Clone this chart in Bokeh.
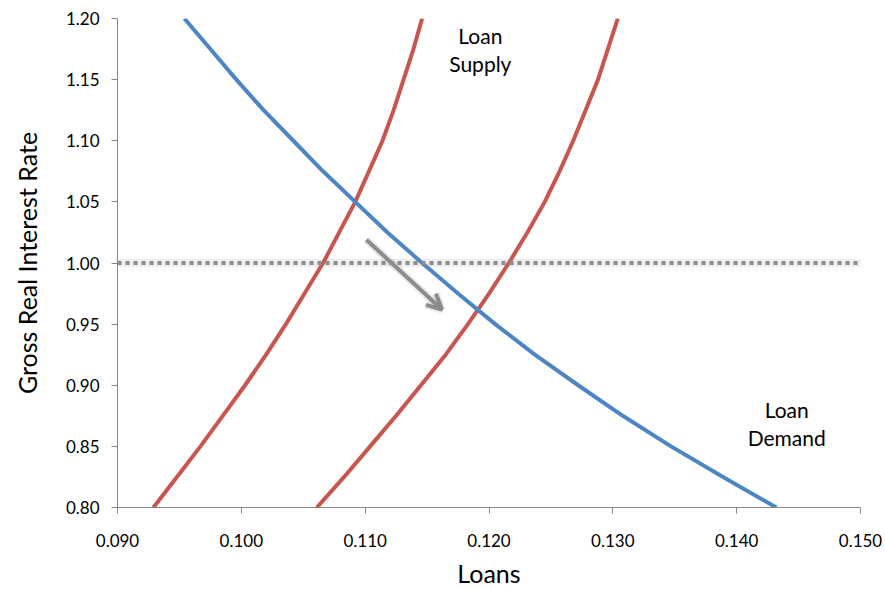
from bokeh.plotting import figure
from bokeh.models import Range1d, FixedTicker, Span, Arrow, OpenHead, ColumnDataSource
from bokeh.core.properties import value
from bokeh.embed import file_html
from bokeh.resources import INLINE

# ---- data ----
rates = [0.800, 0.825, 0.850, 0.875, 0.900, 0.925, 0.950, 0.975, 1.000,
         1.025, 1.050, 1.075, 1.100, 1.125, 1.150, 1.175, 1.200]
loan_demand = [0.1432, 0.1389, 0.1347, 0.1308, 0.1272, 0.1237, 0.1205, 0.1175, 0.1146,
               0.1118, 0.1092, 0.1066, 0.1042, 0.1018, 0.0996, 0.0975, 0.0954]
loan_supply_before = [0.0929, 0.0948, 0.0967, 0.0985, 0.1003, 0.1020, 0.1036, 0.1051, 0.1066,
                      0.1079, 0.1092, 0.1103, 0.1114, 0.1123, 0.1131, 0.1139, 0.1146]
loan_supply_after = [0.1061, 0.1083, 0.1104, 0.1125, 0.1145, 0.1165, 0.1183, 0.1200, 0.1216,
                     0.1231, 0.1245, 0.1257, 0.1268, 0.1278, 0.1288, 0.1296, 0.1304]
reference_rate = 1.00
shift_arrow_x = [0.1101, 0.1162]
shift_arrow_y = [1.019, 0.962]

x_ticks = [0.09, 0.10, 0.11, 0.12, 0.13, 0.14, 0.15]
x_tick_labels = ["0.090", "0.100", "0.110", "0.120", "0.130", "0.140", "0.150"]
y_ticks = [0.80, 0.85, 0.90, 0.95, 1.00, 1.05, 1.10, 1.15, 1.20]
y_tick_labels = ["0.80", "0.85", "0.90", "0.95", "1.00", "1.05", "1.10", "1.15", "1.20"]

supply_label = ["Loan", "Supply"]
demand_label = ["Loan", "Demand"]

FONT = "Lato"
AXIS_GREY = "#868686"
BLUE = "#4D86C3"
RED = "#C9554F"
GREY = "#8C8C8C"

p = figure(width=885, height=590, output_backend="svg", toolbar_location=None,
           x_range=Range1d(0.09, 0.15), y_range=Range1d(0.80, 1.20),
           min_border_left=117, min_border_right=25, min_border_top=18, min_border_bottom=82)
p.outline_line_color = None
p.xgrid.visible = False
p.ygrid.visible = False
p.background_fill_color = "white"
p.border_fill_color = "white"

for ax in (p.xaxis[0], p.yaxis[0]):
    ax.axis_line_color = AXIS_GREY
    ax.major_tick_line_color = AXIS_GREY
    ax.minor_tick_line_color = None
    ax.major_tick_out = 6
    ax.major_tick_in = 0
    ax.major_label_text_font = FONT
    ax.major_label_text_font_size = "17px"
    ax.major_label_text_color = "black"
    ax.axis_label_text_font = FONT
    ax.axis_label_text_font_size = "25px"
    ax.axis_label_text_font_style = "normal"
    ax.axis_label_text_color = "black"

p.xaxis[0].ticker = FixedTicker(ticks=x_ticks)
p.xaxis[0].major_label_overrides = dict(zip(x_ticks, x_tick_labels))
p.yaxis[0].ticker = FixedTicker(ticks=y_ticks)
p.yaxis[0].major_label_overrides = dict(zip(y_ticks, y_tick_labels))
p.xaxis[0].axis_label = "Loans"
p.yaxis[0].axis_label = "Gross Real Interest Rate"
p.xaxis[0].major_label_standoff = 20
p.xaxis[0].axis_label_standoff = 8
p.yaxis[0].major_label_standoff = 12
p.yaxis[0].axis_label_standoff = 21

# reference rate: soft shadow + dotted line
p.add_layout(Span(location=reference_rate, dimension="width", line_color=GREY,
                  line_alpha=0.15, line_width=8))
p.add_layout(Span(location=reference_rate, dimension="width", line_color=GREY,
                  line_width=4, line_dash="4 4"))

src = ColumnDataSource(dict(rate=rates, demand=loan_demand,
                            s1=loan_supply_before, s2=loan_supply_after))
p.line("s1", "rate", source=src, line_color=RED, line_width=4, line_join="round")
p.line("s2", "rate", source=src, line_color=RED, line_width=4, line_join="round")
p.line("demand", "rate", source=src, line_color=BLUE, line_width=4, line_join="round")

# shift arrow (shadow + arrow)
p.add_layout(Arrow(x_start=shift_arrow_x[0], y_start=shift_arrow_y[0],
                   x_end=shift_arrow_x[1], y_end=shift_arrow_y[1],
                   line_color=GREY, line_alpha=0.18, line_width=8,
                   end=OpenHead(size=15, line_color=GREY, line_alpha=0.18, line_width=8)))
p.add_layout(Arrow(x_start=shift_arrow_x[0], y_start=shift_arrow_y[0],
                   x_end=shift_arrow_x[1], y_end=shift_arrow_y[1],
                   line_color=GREY, line_width=4,
                   end=OpenHead(size=15, line_color=GREY, line_width=4)))

# curve labels
lab_src = ColumnDataSource(dict(
    x=[0.1193, 0.1193, 0.14404, 0.14404],
    y=[1.1859, 1.1629, 0.8798, 0.8574],
    t=supply_label + demand_label))
p.text("x", "y", text="t", source=lab_src, text_font=value(FONT), text_font_size="21px",
       text_align="center", text_baseline="alphabetic", text_color="black")

open("out.html", "w").write(file_html(p, INLINE))
